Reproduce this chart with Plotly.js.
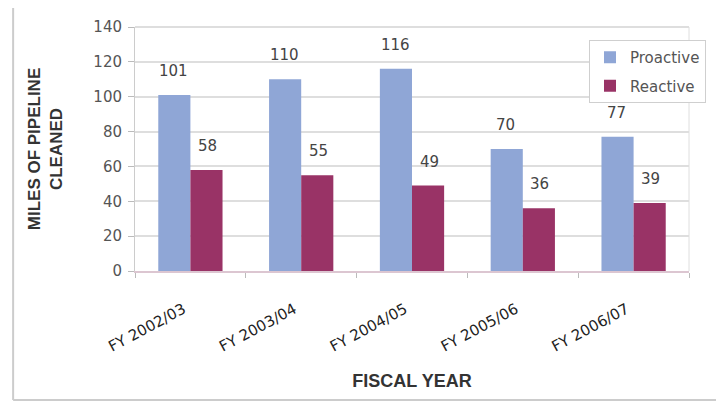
<!DOCTYPE html>
<html>
<head>
<meta charset="utf-8">
<script src="https://cdn.plot.ly/plotly-3.0.1.min.js"></script>
<style>html,body{margin:0;padding:0;background:#fff;}#chart{width:716px;height:402px;}</style>
</head>
<body>
<div id="chart"></div>
<script>
const categories = ["FY 2002/03", "FY 2003/04", "FY 2004/05", "FY 2005/06", "FY 2006/07"];
const proactive = [101, 110, 116, 70, 77];
const reactive = [58, 55, 49, 36, 39];
const seriesNames = ["Proactive", "Reactive"];

const colors = ["#8FA6D6", "#993366"];
const font = "DejaVu Sans, Liberation Sans, sans-serif";
const boldFont = "Liberation Sans, Arial, sans-serif";

const traces = [
  {type: "bar", name: seriesNames[0], legendgroup: "a", x: categories, y: proactive, marker: {color: colors[0]}},
  {type: "bar", name: seriesNames[1], legendgroup: "b", x: categories, y: reactive, marker: {color: colors[1]}}
];

const annotations = [];
[proactive, reactive].forEach((vals, si) => {
  vals.forEach((v, i) => {
    annotations.push({
      x: categories[i], y: v, xref: "x", yref: "y",
      text: String(v), showarrow: false,
      xshift: si === 0 ? -17 : 17, yshift: 24, yanchor: "middle",
      font: {family: font, size: 15, color: "#444"}
    });
  });
});

const layout = {
  width: 716, height: 402,
  margin: {l: 135, r: 27, t: 27, b: 131, autoexpand: false},
  paper_bgcolor: "#fff", plot_bgcolor: "#fff",
  barmode: "group", bargap: 0.42, bargroupgap: 0,
  showlegend: true,
  legend: {xref: "container", yref: "container", x: 0.986, y: 0.9005, xanchor: "right", yanchor: "top",
    traceorder: "grouped", tracegroupgap: 6,
    bordercolor: "#cfcfcf", borderwidth: 1, bgcolor: "#fff",
    font: {family: font, size: 15, color: "#555"}, itemwidth: 30},
  xaxis: {
    type: "category", tickangle: -28, tickson: "boundaries", automargin: false,
    ticks: "outside", ticklen: 5, tickcolor: "#bbb",
    ticklabelstandoff: 22, ticklabelshift: -7,
    showline: true, linecolor: "#dcc6d1", linewidth: 2,
    tickfont: {family: font, size: 15, color: "#222"},
    title: {text: "<b>FISCAL YEAR</b>", font: {family: boldFont, size: 18, color: "#333"}, standoff: 20},
    showgrid: false
  },
  yaxis: {
    range: [0, 140], dtick: 20, tick0: 0, automargin: false,
    ticks: "outside", ticklen: 6, tickcolor: "#bbb",
    ticklabelstandoff: 3,
    showline: true, linecolor: "#ccc", linewidth: 1,
    gridcolor: "#dedede", gridwidth: 2, zeroline: false,
    tickfont: {family: font, size: 15, color: "#555"},
    title: {text: "<b>MILES OF PIPELINE<br>CLEANED</b>", font: {family: boldFont, size: 17, color: "#333"}, standoff: 26}
  },
  annotations: annotations,
  shapes: [
    {type: "line", xref: "paper", yref: "paper", x0: -0.22, x1: -0.22, y0: -0.529, y1: 1.078, line: {color: "#cccccc", width: 2}},
    {type: "line", xref: "paper", yref: "paper", x0: -0.22, x1: 1.05, y0: -0.529, y1: -0.529, line: {color: "#cccccc", width: 2}},
    {type: "line", xref: "paper", yref: "paper", x0: 0, x1: 1, y0: 1, y1: 1, line: {color: "#dedede", width: 2}},
    {type: "line", xref: "paper", yref: "paper", x0: 1, x1: 1, y0: 0, y1: 1, line: {color: "#dedede", width: 1}}
  ]
};

Plotly.newPlot("chart", traces, layout, {displayModeBar: false, staticPlot: true});
</script>
</body>
</html>
